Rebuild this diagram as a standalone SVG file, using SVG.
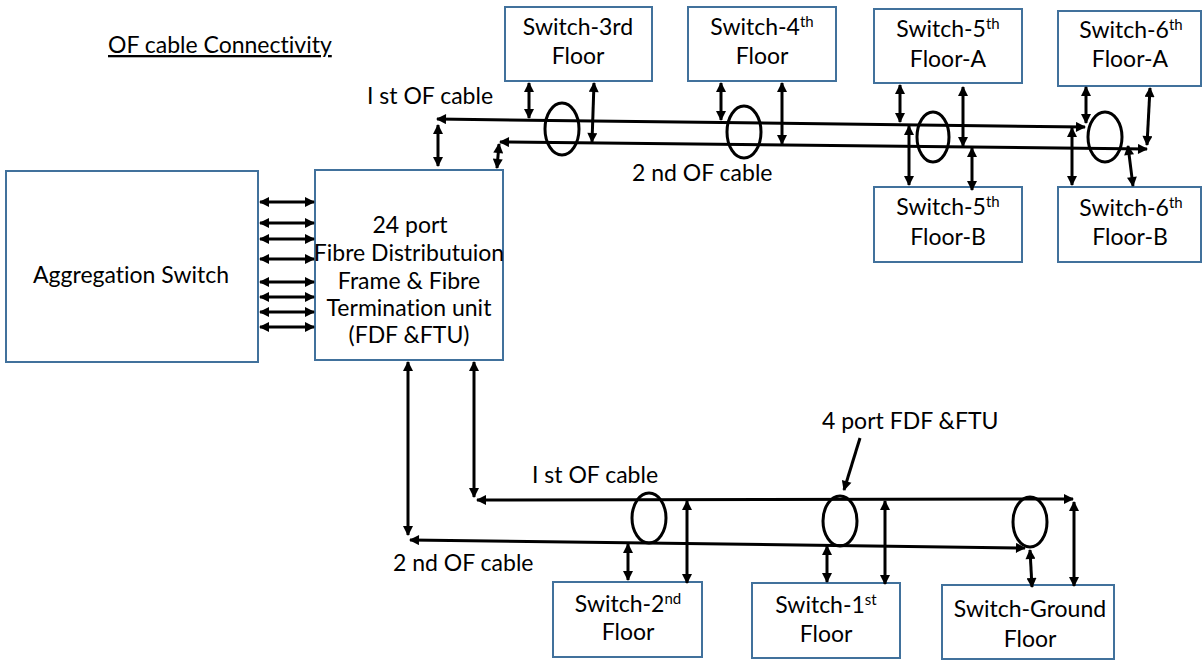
<svg xmlns="http://www.w3.org/2000/svg" width="1202" height="660" viewBox="0 0 1202 660">
<style>
.box{fill:#fff;stroke:#41719C;stroke-width:2}
.t{font-family:Lato,"Liberation Sans",sans-serif;font-size:23px;fill:#000;text-anchor:middle;font-variant-ligatures:none}
.l{font-family:Lato,"Liberation Sans",sans-serif;font-size:23px;fill:#000;font-variant-ligatures:none}
.a2{fill:none;stroke:#000;stroke-width:3;marker-start:url(#ah);marker-end:url(#ah)}
.a1{fill:none;stroke:#000;stroke-width:3;marker-end:url(#ah)}
.e{fill:none;stroke:#000;stroke-width:3}
</style>
<defs>
<marker id="ah" viewBox="0 0 10 10" refX="9" refY="5" markerWidth="12" markerHeight="10" markerUnits="userSpaceOnUse" orient="auto-start-reverse">
<path d="M0,0 L10,5 L0,10 z" fill="#000"/>
</marker>
</defs>
<rect width="1202" height="660" fill="#fff"/>
<text class="l" x="108" y="53" text-decoration="underline">OF cable Connectivity</text>
<g id="agg"><rect class="box" x="6" y="171" width="252" height="191"/><text class="t" x="131" y="283">Aggregation Switch</text></g>
<g id="fdf"><rect class="box" x="315" y="170" width="188" height="190"/>
<text class="t" x="410" y="233">24 port</text>
<text class="t" x="409" y="261">Fibre Distributuion</text>
<text class="t" x="409" y="289">Frame &amp; Fibre</text>
<text class="t" x="409" y="316">Termination unit</text>
<text class="t" x="409" y="343">(FDF &amp;FTU)</text></g>
<g id="sw3"><rect class="box" x="505" y="7" width="147" height="74"/><text class="t" x="578" y="35">Switch-3rd</text><text class="t" x="578" y="64">Floor</text></g>
<g id="sw4"><rect class="box" x="688" y="7" width="148" height="74"/><text class="t" x="762" y="35">Switch-4<tspan font-size="15" dy="-8">th</tspan></text><text class="t" x="762" y="64">Floor</text></g>
<g id="sw5a"><rect class="box" x="874" y="9" width="148" height="74"/><text class="t" x="948" y="37">Switch-5<tspan font-size="15" dy="-8">th</tspan></text><text class="t" x="948" y="67">Floor-A</text></g>
<g id="sw6a"><rect class="box" x="1058" y="11" width="143" height="75"/><text class="t" x="1131" y="38">Switch-6<tspan font-size="15" dy="-8">th</tspan></text><text class="t" x="1130" y="67">Floor-A</text></g>
<g id="sw5b"><rect class="box" x="874" y="187" width="148" height="75"/><text class="t" x="948" y="215">Switch-5<tspan font-size="15" dy="-8">th</tspan></text><text class="t" x="948" y="245">Floor-B</text></g>
<g id="sw6b"><rect class="box" x="1058" y="187" width="143" height="75"/><text class="t" x="1131" y="216">Switch-6<tspan font-size="15" dy="-8">th</tspan></text><text class="t" x="1130" y="245">Floor-B</text></g>
<g id="sw2"><rect class="box" x="553" y="582" width="149" height="75"/><text class="t" x="628" y="612">Switch-2<tspan font-size="15" dy="-8">nd</tspan></text><text class="t" x="628" y="640">Floor</text></g>
<g id="sw1"><rect class="box" x="752" y="583" width="148" height="75"/><text class="t" x="826" y="613">Switch-1<tspan font-size="15" dy="-8">st</tspan></text><text class="t" x="826" y="642">Floor</text></g>
<g id="swg"><rect class="box" x="942" y="585" width="172" height="74"/><text class="t" x="1030" y="617">Switch-Ground</text><text class="t" x="1030" y="647">Floor</text></g>
<g id="labels">
<text class="l" x="367" y="104">I st OF cable</text>
<text class="l" x="632" y="181">2 nd OF cable</text>
<text class="l" x="532" y="483">I st OF cable</text>
<text class="l" x="393" y="571">2 nd OF cable</text>
<text class="l" x="822" y="429">4 port FDF &amp;FTU</text>
</g>
<g id="connectors">
<line class="a2" x1="260" y1="202" x2="314" y2="202"/>
<line class="a2" x1="260" y1="223" x2="314" y2="223"/>
<line class="a2" x1="260" y1="239" x2="314" y2="239"/>
<line class="a2" x1="260" y1="259" x2="314" y2="259"/>
<line class="a2" x1="260" y1="282" x2="314" y2="282"/>
<line class="a2" x1="260" y1="297" x2="314" y2="297"/>
<line class="a2" x1="260" y1="312" x2="314" y2="312"/>
<line class="a2" x1="260" y1="327" x2="314" y2="327"/>
<line class="a2" x1="437" y1="119" x2="1085" y2="127"/>
<line class="a2" x1="500" y1="142" x2="1147" y2="149"/>
<line class="a2" x1="438" y1="125" x2="438" y2="166"/>
<line class="a2" x1="499" y1="144" x2="497" y2="168"/>
<line class="a2" x1="529" y1="83" x2="529" y2="118"/>
<line class="a2" x1="594" y1="83" x2="592" y2="142"/>
<ellipse class="e" cx="562" cy="129" rx="17" ry="26"/>
<line class="a2" x1="721" y1="83" x2="721" y2="120"/>
<line class="a2" x1="782" y1="83" x2="782" y2="144"/>
<ellipse class="e" cx="744" cy="132" rx="17" ry="26"/>
<line class="a2" x1="900" y1="85" x2="900" y2="122"/>
<line class="a2" x1="963" y1="87" x2="963" y2="146"/>
<ellipse class="e" cx="933" cy="137" rx="16" ry="25"/>
<line class="a2" x1="909" y1="126" x2="909" y2="185"/>
<line class="a2" x1="972" y1="148" x2="972" y2="190"/>
<line class="a2" x1="1086" y1="87" x2="1086" y2="123"/>
<line class="a2" x1="1150" y1="88" x2="1147" y2="145"/>
<ellipse class="e" cx="1105" cy="137" rx="17" ry="25"/>
<line class="a2" x1="1072" y1="128" x2="1072" y2="185"/>
<line class="a2" x1="1128" y1="146" x2="1133" y2="186"/>
<line class="a2" x1="408" y1="362" x2="408" y2="535"/>
<line class="a2" x1="474" y1="362" x2="474" y2="497"/>
<line class="a2" x1="477" y1="500" x2="1073" y2="499"/>
<line class="a2" x1="410" y1="540" x2="1025" y2="548"/>
<ellipse class="e" cx="649" cy="518" rx="17" ry="25"/>
<ellipse class="e" cx="840" cy="521" rx="17" ry="25"/>
<ellipse class="e" cx="1030" cy="522" rx="17" ry="25"/>
<line class="a2" x1="628" y1="544" x2="628" y2="580"/>
<line class="a2" x1="687" y1="501" x2="687" y2="583"/>
<line class="a2" x1="827" y1="546" x2="827" y2="582"/>
<line class="a2" x1="885" y1="501" x2="885" y2="584"/>
<line class="a2" x1="1030" y1="550" x2="1032" y2="587"/>
<line class="a2" x1="1074" y1="502" x2="1074" y2="586"/>
<line class="a1" x1="860" y1="438" x2="844" y2="490"/>
</g>
</svg>
